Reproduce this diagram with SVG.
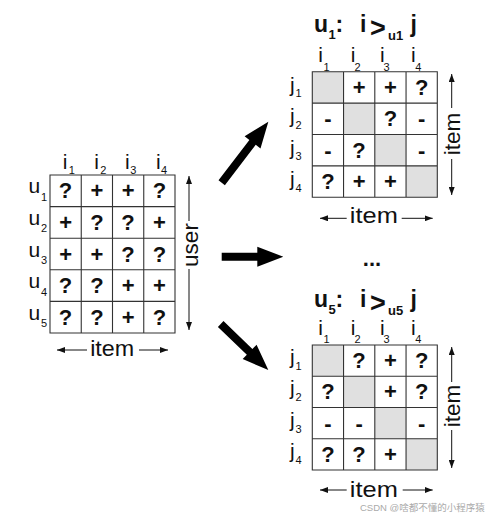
<svg xmlns="http://www.w3.org/2000/svg" width="487" height="516" viewBox="0 0 487 516">
<style>
text{font-family:"Liberation Sans",Arial,sans-serif;fill:#111}
.sym{font-size:22px;font-weight:bold;text-anchor:middle}
.lab{font-size:21px}
.sub{font-size:11px}
.mid{text-anchor:middle}
.ttl{font-size:23px;font-weight:bold}
.gt{font-size:27px;font-weight:bold}
.tsub{font-size:13px;font-weight:bold}
.ax{font-size:22.5px;text-anchor:middle}
.grid{fill:none;stroke:#333;stroke-width:1.1}
.diag{fill:#e0e0e0}
.ar{stroke:#111;stroke-width:1;fill:none;marker-end:url(#ah)}
.big{fill:#000}
.wm{font-family:"Liberation Sans","Noto Sans CJK SC",sans-serif;font-size:9.5px;fill:#aaa}
</style>
<defs>
<marker id="ah" viewBox="0 0 8 6" refX="8" refY="3" markerWidth="8" markerHeight="6" markerUnits="userSpaceOnUse" orient="auto">
<path d="M0,0 L8,3 L0,6 z" fill="#111"/>
</marker>
</defs>

<g id="user-item-matrix">
<path class="grid" d="M50,175 H175 V333 H50 Z M81.25,175 V333 M112.5,175 V333 M143.75,175 V333 M50,206.6 H175 M50,238.2 H175 M50,269.8 H175 M50,301.4 H175"/>
<text class="lab mid" x="65" y="169.3">i</text><text class="sub mid" x="71.7" y="174">1</text>
<text class="lab mid" x="96.7" y="169.3">i</text><text class="sub mid" x="103.3" y="174">2</text>
<text class="lab mid" x="127.3" y="169.3">i</text><text class="sub mid" x="133.3" y="174">3</text>
<text class="lab mid" x="158.3" y="169.3">i</text><text class="sub mid" x="164" y="174">4</text>
<text class="lab" x="28.5" y="193.3">u</text><text class="sub" x="41" y="200.8">1</text>
<text class="lab" x="28.5" y="224.9">u</text><text class="sub" x="41" y="232.4">2</text>
<text class="lab" x="28.5" y="256.5">u</text><text class="sub" x="41" y="264">3</text>
<text class="lab" x="28.5" y="288.1">u</text><text class="sub" x="41" y="295.6">4</text>
<text class="lab" x="28.5" y="319.7">u</text><text class="sub" x="41" y="327.2">5</text>
<text class="sym" x="65.6" y="198.3">?</text><text class="sym" x="96.9" y="198.3">+</text><text class="sym" x="128.1" y="198.3">+</text><text class="sym" x="159.4" y="198.3">?</text>
<text class="sym" x="65.6" y="229.9">+</text><text class="sym" x="96.9" y="229.9">?</text><text class="sym" x="128.1" y="229.9">?</text><text class="sym" x="159.4" y="229.9">+</text>
<text class="sym" x="65.6" y="261.5">+</text><text class="sym" x="96.9" y="261.5">+</text><text class="sym" x="128.1" y="261.5">?</text><text class="sym" x="159.4" y="261.5">?</text>
<text class="sym" x="65.6" y="293.1">?</text><text class="sym" x="96.9" y="293.1">?</text><text class="sym" x="128.1" y="293.1">+</text><text class="sym" x="159.4" y="293.1">+</text>
<text class="sym" x="65.6" y="324.7">?</text><text class="sym" x="96.9" y="324.7">?</text><text class="sym" x="128.1" y="324.7">+</text><text class="sym" x="159.4" y="324.7">?</text>
<line class="ar" x1="189" y1="221" x2="189" y2="176"/>
<line class="ar" x1="189" y1="269" x2="189" y2="330"/>
<text class="ax" transform="translate(197.5,245) rotate(-90)">user</text>
<line class="ar" x1="87" y1="350" x2="57" y2="350"/>
<line class="ar" x1="139" y1="350" x2="168" y2="350"/>
<text class="ax" x="112.2" y="356" textLength="44" lengthAdjust="spacingAndGlyphs">item</text>
</g>

<g id="pair-matrix-u1">
<rect class="diag" x="312.3" y="71.7" width="31.25" height="31.4"/>
<rect class="diag" x="343.55" y="103.1" width="31.25" height="31.4"/>
<rect class="diag" x="374.8" y="134.5" width="31.25" height="31.4"/>
<rect class="diag" x="406.05" y="165.9" width="31.25" height="31.4"/>
<path class="grid" d="M312.3,71.7 H437.3 V197.3 H312.3 Z M343.55,71.7 V197.3 M374.8,71.7 V197.3 M406.05,71.7 V197.3 M312.3,103.1 H437.3 M312.3,134.5 H437.3 M312.3,165.9 H437.3"/>
<text class="ttl" x="314" y="31.7">u</text><text class="tsub" x="328.5" y="39.3">1</text><text class="ttl" x="335.5" y="31.7">:</text>
<text class="ttl" x="360" y="31.7">i</text><text class="gt" x="370" y="37">&gt;</text><text class="tsub" x="388" y="39.8">u1</text><text class="ttl" x="410.5" y="31.7">j</text>
<text class="lab mid" x="320.5" y="61.7">i</text><text class="sub mid" x="326.5" y="70.5">1</text>
<text class="lab mid" x="353" y="61.7">i</text><text class="sub mid" x="357.5" y="70.5">2</text>
<text class="lab mid" x="382.3" y="61.7">i</text><text class="sub mid" x="386.5" y="70.5">3</text>
<text class="lab mid" x="413.3" y="61.7">i</text><text class="sub mid" x="418.3" y="70.5">4</text>
<text class="lab" x="290" y="91.9">j</text><text class="sub" x="295.5" y="97.4">1</text>
<text class="lab" x="290" y="123.3">j</text><text class="sub" x="295.5" y="128.8">2</text>
<text class="lab" x="290" y="154.7">j</text><text class="sub" x="295.5" y="160.2">3</text>
<text class="lab" x="290" y="186.1">j</text><text class="sub" x="295.5" y="191.6">4</text>
<text class="sym" x="359.1" y="94.9">+</text><text class="sym" x="390.4" y="94.9">+</text><text class="sym" x="421.7" y="94.9">?</text>
<text class="sym" x="327.9" y="126.3">-</text><text class="sym" x="390.4" y="126.3">?</text><text class="sym" x="421.7" y="126.3">-</text>
<text class="sym" x="327.9" y="157.7">-</text><text class="sym" x="359.1" y="157.7">?</text><text class="sym" x="421.7" y="157.7">-</text>
<text class="sym" x="327.9" y="189.1">?</text><text class="sym" x="359.1" y="189.1">+</text><text class="sym" x="390.4" y="189.1">+</text>
<line class="ar" x1="451.7" y1="108" x2="451.7" y2="74"/>
<line class="ar" x1="451.7" y1="159" x2="451.7" y2="195"/>
<text class="ax" transform="translate(459.5,134) rotate(-90)">item</text>
<line class="ar" x1="346.7" y1="218.3" x2="320" y2="218.3"/>
<line class="ar" x1="401.7" y1="218.3" x2="432.7" y2="218.3"/>
<text class="ax" x="373.8" y="223" textLength="48" lengthAdjust="spacingAndGlyphs">item</text>
</g>

<g id="ellipsis">
<text class="ttl mid" x="372" y="266" style="font-size:22px">...</text>
</g>

<g id="pair-matrix-u5">
<rect class="diag" x="312.3" y="345" width="31.25" height="31.25"/>
<rect class="diag" x="343.55" y="376.25" width="31.25" height="31.25"/>
<rect class="diag" x="374.8" y="407.5" width="31.25" height="31.25"/>
<rect class="diag" x="406.05" y="438.75" width="31.25" height="31.25"/>
<path class="grid" d="M312.3,345 H437.3 V470 H312.3 Z M343.55,345 V470 M374.8,345 V470 M406.05,345 V470 M312.3,376.25 H437.3 M312.3,407.5 H437.3 M312.3,438.75 H437.3"/>
<text class="ttl" x="314" y="306.7">u</text><text class="tsub" x="328.5" y="314">5</text><text class="ttl" x="335.5" y="306.7">:</text>
<text class="ttl" x="360" y="306.7">i</text><text class="gt" x="370" y="312">&gt;</text><text class="tsub" x="388" y="314.8">u5</text><text class="ttl" x="410.5" y="306.7">j</text>
<text class="lab mid" x="320.5" y="335">i</text><text class="sub mid" x="326.5" y="343.3">1</text>
<text class="lab mid" x="353" y="335">i</text><text class="sub mid" x="357.5" y="343.3">2</text>
<text class="lab mid" x="382.3" y="335">i</text><text class="sub mid" x="386.5" y="343.3">3</text>
<text class="lab mid" x="413.3" y="335">i</text><text class="sub mid" x="418.3" y="343.3">4</text>
<text class="lab" x="290" y="364">j</text><text class="sub" x="295.5" y="370">1</text>
<text class="lab" x="290" y="395.3">j</text><text class="sub" x="295.5" y="401.3">2</text>
<text class="lab" x="290" y="426.5">j</text><text class="sub" x="295.5" y="432.5">3</text>
<text class="lab" x="290" y="457.8">j</text><text class="sub" x="295.5" y="463.8">4</text>
<text class="sym" x="359.1" y="368.1">?</text><text class="sym" x="390.4" y="368.1">+</text><text class="sym" x="421.7" y="368.1">?</text>
<text class="sym" x="327.9" y="399.4">?</text><text class="sym" x="390.4" y="399.4">+</text><text class="sym" x="421.7" y="399.4">?</text>
<text class="sym" x="327.9" y="430.6">-</text><text class="sym" x="359.1" y="430.6">-</text><text class="sym" x="421.7" y="430.6">-</text>
<text class="sym" x="327.9" y="461.9">?</text><text class="sym" x="359.1" y="461.9">?</text><text class="sym" x="390.4" y="461.9">+</text>
<line class="ar" x1="451.7" y1="382" x2="451.7" y2="347"/>
<line class="ar" x1="451.7" y1="430" x2="451.7" y2="468"/>
<text class="ax" transform="translate(459.5,406) rotate(-90)">item</text>
<line class="ar" x1="346.7" y1="490" x2="320" y2="490"/>
<line class="ar" x1="402.7" y1="490" x2="432.7" y2="490"/>
<text class="ax" x="373.8" y="496.7" textLength="48" lengthAdjust="spacingAndGlyphs">item</text>
</g>

<g id="connectors">
<polygon class="big" transform="translate(221.7,182.7) rotate(-52.6)" points="0,-4 50.8,-4 50.8,-10 76.8,0 50.8,10 50.8,4 0,4"/>
<polygon class="big" transform="translate(221.7,256.7)" points="0,-4 35.6,-4 35.6,-10 61.6,0 35.6,10 35.6,4 0,4"/>
<polygon class="big" transform="translate(220.7,324) rotate(44)" points="0,-4 40.2,-4 40.2,-10 66.2,0 40.2,10 40.2,4 0,4"/>
</g>

<text class="wm" x="360" y="511">CSDN @啥都不懂的小程序猿</text>
</svg>
